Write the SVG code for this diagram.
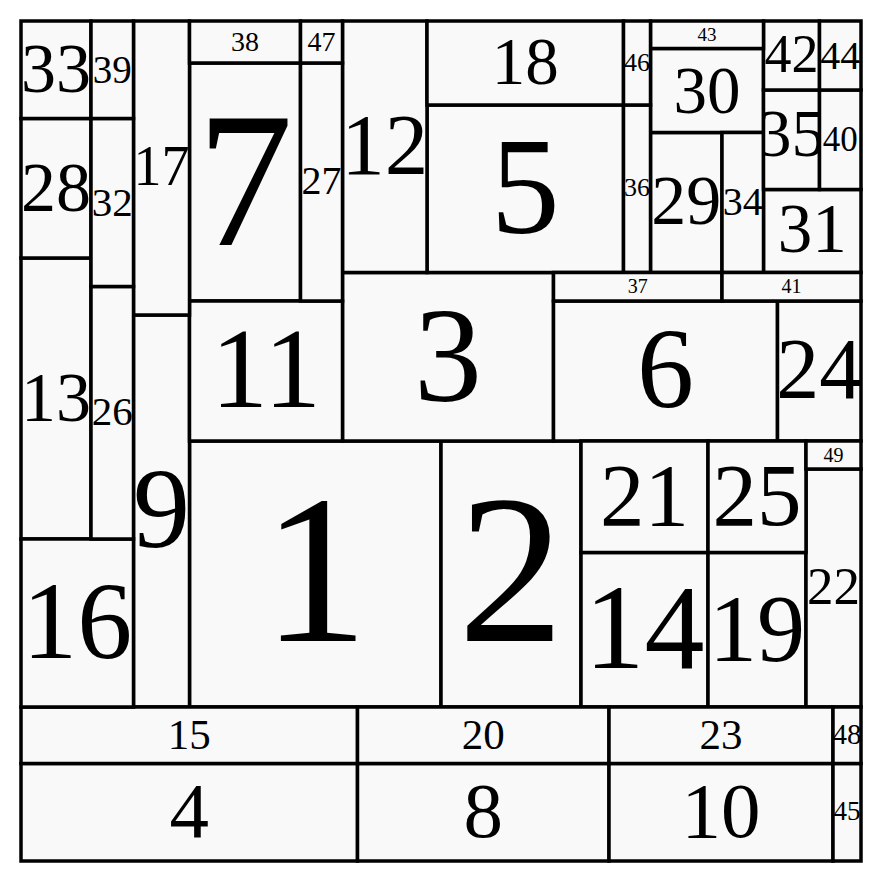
<svg xmlns="http://www.w3.org/2000/svg" width="882" height="882" viewBox="0 0 882 882">
<style>
.c rect{fill:#f9f9f9;stroke:#000;stroke-width:3.5}
.c text{font-family:"Liberation Serif","Times New Roman",serif;fill:#000;text-anchor:middle;dominant-baseline:central}
</style>
<defs>
<clipPath id="k22"><rect x="807" y="470" width="53" height="236"/></clipPath>
<clipPath id="k36"><rect x="624" y="106" width="26" height="166"/></clipPath>
<clipPath id="k46"><rect x="624" y="22" width="26" height="82"/></clipPath>
<clipPath id="k45"><rect x="834" y="764" width="26" height="96"/></clipPath>
<clipPath id="k48"><rect x="834" y="708" width="26" height="55"/></clipPath>
<clipPath id="k39"><rect x="92" y="22" width="41" height="96"/></clipPath>
<clipPath id="k32"><rect x="92" y="119" width="41" height="167"/></clipPath>
<clipPath id="k26"><rect x="92" y="287" width="41" height="251"/></clipPath>
<clipPath id="k27"><rect x="301" y="64" width="41" height="236"/></clipPath>
<clipPath id="k34"><rect x="723" y="133" width="40" height="139"/></clipPath>
<clipPath id="k40"><rect x="820" y="91" width="40" height="98"/></clipPath>
<clipPath id="k44"><rect x="820" y="22" width="40" height="67"/></clipPath>
<clipPath id="k24"><rect x="778" y="302" width="82" height="138"/></clipPath>
<clipPath id="k29"><rect x="651" y="133" width="70" height="139"/></clipPath>
<clipPath id="k42"><rect x="764" y="22" width="55" height="67"/></clipPath>
<clipPath id="k35"><rect x="764" y="91" width="55" height="98"/></clipPath>
</defs>
<rect x="0" y="0" width="882" height="882" fill="#fff"/>
<g class="c">
<g id="n1"><rect x="189.5" y="441" width="251.5" height="266"/><text x="315.25" y="569" font-size="212">1</text></g>
<g id="n2"><rect x="441" y="441" width="140" height="266"/><text x="511" y="569" font-size="212">2</text></g>
<g id="n3"><rect x="342.5" y="272.5" width="211" height="168.5"/><text x="448" y="354.5" font-size="136">3</text></g>
<g id="n4"><rect x="21" y="763.5" width="336.5" height="97.5"/><text x="189.25" y="810.5" font-size="79">4</text></g>
<g id="n5"><rect x="427" y="105" width="196.5" height="167.5"/><text x="525.25" y="186.5" font-size="138">5</text></g>
<g id="n6"><rect x="553.5" y="301" width="224" height="140"/><text x="665.5" y="368.5" font-size="114">6</text></g>
<g id="n7"><rect x="189.5" y="63" width="111" height="238"/><text x="245" y="180" font-size="192">7</text></g>
<g id="n8"><rect x="357.5" y="763.5" width="251.5" height="97.5"/><text x="483.25" y="810.5" font-size="79">8</text></g>
<g id="n9"><rect x="133.5" y="315" width="56" height="392"/><text x="161.5" y="508.5" font-size="114">9</text></g>
<g id="n10"><rect x="609" y="763.5" width="224" height="97.5"/><text x="721" y="810.5" font-size="79">10</text></g>
<g id="n11"><rect x="189.5" y="301" width="153" height="140"/><text x="266" y="368.5" font-size="114">11</text></g>
<g id="n12"><rect x="342.5" y="21" width="84.5" height="251.5"/><text x="384.75" y="144.5" font-size="87">12</text></g>
<g id="n13"><rect x="21" y="258" width="70" height="281"/><text x="56" y="397.5" font-size="70">13</text></g>
<g id="n14"><rect x="581" y="552.5" width="127" height="154.5"/><text x="644.5" y="627" font-size="120">14</text></g>
<g id="n15"><rect x="21" y="707" width="336.5" height="56.5"/><text x="189.25" y="734" font-size="43">15</text></g>
<g id="n16"><rect x="21" y="539" width="112.5" height="168"/><text x="77.25" y="621" font-size="110">16</text></g>
<g id="n17"><rect x="133.5" y="21" width="56" height="294"/><text x="161.5" y="166" font-size="56">17</text></g>
<g id="n18"><rect x="427" y="21" width="196.5" height="84"/><text x="525.25" y="61" font-size="67">18</text></g>
<g id="n19"><rect x="708" y="552.5" width="98" height="154.5"/><text x="757" y="628" font-size="96">19</text></g>
<g id="n20"><rect x="357.5" y="707" width="251.5" height="56.5"/><text x="483.25" y="734" font-size="43">20</text></g>
<g id="n21"><rect x="581" y="441" width="127" height="111.5"/><text x="644.5" y="495" font-size="89">21</text></g>
<g id="n22"><rect x="806" y="469" width="55" height="238"/><text x="833.5" y="586" font-size="53" clip-path="url(#k22)">22</text></g>
<g id="n23"><rect x="609" y="707" width="224" height="56.5"/><text x="721" y="734" font-size="43">23</text></g>
<g id="n24"><rect x="777.5" y="301" width="83.5" height="140"/><text x="819.25" y="369" font-size="86" clip-path="url(#k24)">24</text></g>
<g id="n25"><rect x="708" y="441" width="98" height="111.5"/><text x="757" y="495" font-size="89">25</text></g>
<g id="n26"><rect x="91" y="286.5" width="42.5" height="252.5"/><text x="112.25" y="411" font-size="41" clip-path="url(#k26)">26</text></g>
<g id="n27"><rect x="300.5" y="63" width="42" height="238"/><text x="321.5" y="180.5" font-size="40" clip-path="url(#k27)">27</text></g>
<g id="n28"><rect x="21" y="118.5" width="70" height="139.5"/><text x="56" y="187" font-size="70">28</text></g>
<g id="n29"><rect x="650.5" y="132.5" width="71.5" height="140"/><text x="686.25" y="200.5" font-size="70" clip-path="url(#k29)">29</text></g>
<g id="n30"><rect x="650.5" y="48.5" width="113" height="84"/><text x="707" y="89.5" font-size="67">30</text></g>
<g id="n31"><rect x="763.5" y="189.5" width="97.5" height="83"/><text x="812.25" y="228.5" font-size="69">31</text></g>
<g id="n32"><rect x="91" y="118.5" width="42.5" height="168"/><text x="112.25" y="201.5" font-size="41" clip-path="url(#k32)">32</text></g>
<g id="n33"><rect x="21" y="21" width="70" height="97.5"/><text x="56" y="68.5" font-size="70">33</text></g>
<g id="n34"><rect x="722" y="132.5" width="41.5" height="140"/><text x="742.75" y="201.5" font-size="40" clip-path="url(#k34)">34</text></g>
<g id="n35"><rect x="763.5" y="90" width="56" height="99.5"/><text x="791.5" y="133" font-size="67" clip-path="url(#k35)">35</text></g>
<g id="n36"><rect x="623.5" y="105" width="27" height="167.5"/><text x="637" y="187.5" font-size="26" clip-path="url(#k36)">36</text></g>
<g id="n37"><rect x="553.5" y="272.5" width="168.5" height="28.5"/><text x="637.75" y="285.5" font-size="20">37</text></g>
<g id="n38"><rect x="189.5" y="21" width="111" height="42"/><text x="245" y="41.5" font-size="28">38</text></g>
<g id="n39"><rect x="91" y="21" width="42.5" height="97.5"/><text x="112.25" y="69.5" font-size="39" clip-path="url(#k39)">39</text></g>
<g id="n40"><rect x="819.5" y="90" width="41.5" height="99.5"/><text x="840.25" y="139.5" font-size="35" clip-path="url(#k40)">40</text></g>
<g id="n41"><rect x="722" y="272.5" width="139" height="28.5"/><text x="791.5" y="285.5" font-size="20">41</text></g>
<g id="n42"><rect x="763.5" y="21" width="56" height="69"/><text x="791.5" y="53.5" font-size="54" clip-path="url(#k42)">42</text></g>
<g id="n43"><rect x="650.5" y="21" width="113" height="27.5"/><text x="707" y="34.5" font-size="19">43</text></g>
<g id="n44"><rect x="819.5" y="21" width="41.5" height="69"/><text x="840.25" y="55" font-size="40" clip-path="url(#k44)">44</text></g>
<g id="n45"><rect x="833" y="763.5" width="28" height="97.5"/><text x="847" y="811" font-size="27" clip-path="url(#k45)">45</text></g>
<g id="n46"><rect x="623.5" y="21" width="27" height="84"/><text x="637" y="62.5" font-size="26" clip-path="url(#k46)">46</text></g>
<g id="n47"><rect x="300.5" y="21" width="42" height="42"/><text x="321.5" y="41.5" font-size="28">47</text></g>
<g id="n48"><rect x="833" y="707" width="28" height="56.5"/><text x="847" y="734" font-size="29" clip-path="url(#k48)">48</text></g>
<g id="n49"><rect x="806" y="441" width="55" height="28"/><text x="833.5" y="454.5" font-size="20">49</text></g>
</g>
<g id="connectors"/>
</svg>
